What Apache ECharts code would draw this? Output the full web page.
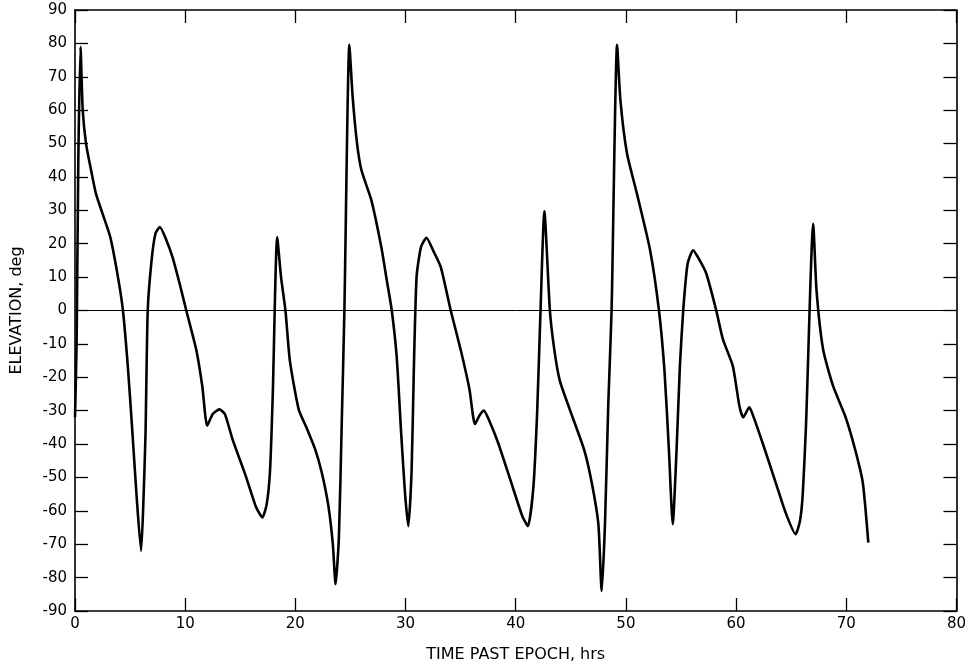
<!DOCTYPE html>
<html>
<head>
<meta charset="utf-8">
<script src="https://cdn.jsdelivr.net/npm/echarts@6/dist/echarts.min.js"></script>
<style>html,body{margin:0;padding:0;background:#fff}#c{width:969px;height:668px}</style>
</head>
<body>
<div id="c"></div>
<script>
// Time past epoch (hrs)
const hours = [0,0.15,0.3,0.5,0.7,1.0,1.4,1.9,2.5,3.2,3.9,4.35,4.8,5.2,5.6,6.0,6.2,6.4,6.6,6.95,7.3,7.7,8.3,8.85,9.5,10.1,11,11.55,12.0,12.5,13.1,13.6,14.3,15.5,16.4,17.0,17.4,17.7,17.95,18.35,18.7,19.1,19.5,20.3,21.0,21.8,22.4,23.0,23.4,23.65,23.95,24.2,24.45,24.9,25.2,25.6,26.0,26.9,27.8,28.3,28.75,29.2,29.6,29.95,30.25,30.55,30.75,31.0,31.4,31.9,32.5,33.2,34.1,35.0,35.8,36.3,36.7,37.1,37.6,38.4,39.5,40.6,41.1,41.6,41.95,42.25,42.6,43.1,43.5,44.0,44.9,46.2,46.9,47.5,47.8,48.1,48.4,48.7,49.2,49.5,50.1,51.0,52.2,53.0,53.5,53.9,54.25,54.6,54.9,55.2,55.6,56.1,56.7,57.3,58.2,58.8,59.7,60.3,60.65,61.2,61.6,62.4,63.6,64.5,65.4,65.8,66.05,66.35,67.0,67.3,67.9,68.8,69.9,70.8,71.5,72.0];
// Elevation (deg)
const elevation = [-32,-9,45,79,60,50,43,35,29,22,10,0,-17,-36,-56,-72,-58,-37,0,15,23,25,21,16,8,0,-11.7,-22.6,-34.5,-31,-29.6,-31,-38.6,-49.6,-58.6,-62,-58,-48,-25,22,10,0,-15,-29.6,-35,-41.6,-48.6,-58.6,-70,-82,-68,-35,0,79.6,64,50,42,33,19,9,0,-14,-36.6,-54.6,-64.6,-48,-18,10,19,21.8,18,13,0,-11.7,-23.6,-34,-31.5,-30,-33,-39.6,-50.6,-61.6,-64.6,-53,-30,0,29.7,0,-11.7,-21,-29.6,-41.6,-51.6,-64,-84,-64,-28,0,79.6,63,47,35,18,0,-18,-41.6,-64,-41.6,-16.6,0,14,18,15,11,0,-8.6,-16.6,-28.6,-32,-29,-32,-39.6,-51.6,-60.6,-67,-63,-55,-34,26,6,-11.7,-22.6,-31.6,-41.6,-51.6,-69.5];
const xTicks = {min: 0, max: 80, interval: 10};
const yTicks = {min: -90, max: 90, interval: 10};
const xName = 'TIME PAST EPOCH, hrs';
const yName = 'ELEVATION, deg';

const data = hours.map((h, i) => [h, elevation[i]]);
const font = 'DejaVu Sans, sans-serif';
const axisLine = {show: true, onZero: false, lineStyle: {color: '#000', width: 1.6}};
const tick = {show: true, inside: true, length: 13, lineStyle: {color: '#000', width: 1.3}};

const chart = echarts.init(document.getElementById('c'), null, {renderer: 'canvas'});
chart.setOption({
  animation: false,
  backgroundColor: '#fff',
  grid: {left: 75, right: 8, top: 10, bottom: 57, containLabel: false},
  xAxis: [
    {type: 'value', min: xTicks.min, max: xTicks.max, interval: xTicks.interval, position: 'bottom',
     axisLine: axisLine, axisTick: tick, splitLine: {show: false},
     axisLabel: {color: '#000', fontSize: 15, fontFamily: font, margin: 6},
     name: xName, nameLocation: 'middle', nameGap: 36,
     nameTextStyle: {color: '#000', fontSize: 16, fontFamily: font}},
    {type: 'value', min: xTicks.min, max: xTicks.max, interval: xTicks.interval, position: 'top',
     axisLine: axisLine, axisTick: tick, splitLine: {show: false}, axisLabel: {show: false}}
  ],
  yAxis: [
    {type: 'value', min: yTicks.min, max: yTicks.max, interval: yTicks.interval, position: 'left',
     axisLine: axisLine, axisTick: tick, splitLine: {show: false},
     axisLabel: {color: '#000', fontSize: 15, fontFamily: font, margin: 8},
     name: yName, nameLocation: 'middle', nameGap: 50,
     nameTextStyle: {color: '#000', fontSize: 16, fontFamily: font}},
    {type: 'value', min: yTicks.min, max: yTicks.max, interval: yTicks.interval, position: 'right',
     axisLine: axisLine, axisTick: tick, splitLine: {show: false}, axisLabel: {show: false}}
  ],
  series: [{
    type: 'line', xAxisIndex: 0, yAxisIndex: 0,
    data: data, showSymbol: false, symbol: 'none', smooth: 0.2,
    lineStyle: {color: '#000', width: 2.6},
    markLine: {silent: true, symbol: 'none', label: {show: false},
      lineStyle: {color: '#000', width: 1, type: 'solid'},
      data: [{yAxis: 0}]}
  }]
});
</script>
</body>
</html>
